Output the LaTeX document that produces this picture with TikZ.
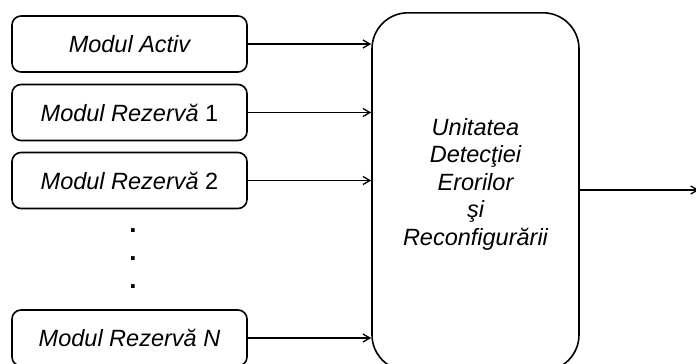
\documentclass[tikz,border=0pt]{standalone}
\usepackage{fontspec}
\setmainfont{Liberation Sans}
\usetikzlibrary{arrows.meta}
\begin{document}
\begin{tikzpicture}[x=1pt,y=-1pt,
  every node/.style={font=\fontsize{23.5}{27.5}\selectfont\itshape, inner sep=0pt},
  modbox/.style={draw, line width=1.6pt, rounded corners=9pt,
    minimum width=235pt, minimum height=56pt, anchor=center},
  unitbox/.style={draw, line width=1.6pt, rounded corners=36pt,
    minimum width=207pt, minimum height=358pt, anchor=north},
  conn/.style={line width=1.3pt, -{Straight Barb[length=7pt,width=8pt,line width=1.3pt]}},
  dot/.style={font=\fontsize{26}{28}\selectfont\upshape\bfseries}]
\useasboundingbox (0,0) rectangle (696,364);
\clip (0,0) rectangle (696,364);

% input modules
\node[modbox] (activ) at (129.5,44) {Modul Activ};
\node[modbox] (rez1) at (129.5,112.5) {Modul Rezervă \upshape 1};
\node[modbox] (rez2) at (129.5,180.5) {Modul Rezervă \upshape 2};
\node[modbox] (rezN) at (129.5,338) {Modul Rezervă N};

% ellipsis between the spare modules
\node[dot] (d1) at (133,231) {.};
\node[dot] (d2) at (133,259) {.};
\node[dot] (d3) at (133,287) {.};

% detection and reconfiguration unit
\node[unitbox] (unit) at (475.5,12) {};
\node[align=center] (unitlbl) at (475.5,184) {Unitatea\\Detecţiei\\Erorilor\\şi\\Reconfigurării};

% inputs to the unit
\draw[conn] (activ.east) -- (activ.east -| unit.west);
\draw[conn] (rez1.east) -- (rez1.east -| unit.west);
\draw[conn] (rez2.east) -- (rez2.east -| unit.west);
\draw[conn] (rezN.east) -- (rezN.east -| unit.west);

% output of the unit
\coordinate (out) at (699,190);
\draw[conn] (out -| unit.east) -- (out);
\end{tikzpicture}
\end{document}
